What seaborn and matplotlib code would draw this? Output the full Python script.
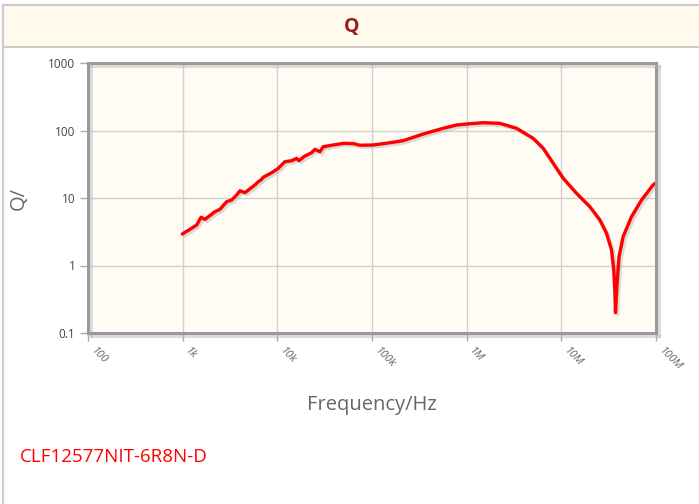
import numpy as np
import pandas as pd
import seaborn as sns
import matplotlib
matplotlib.use("Agg")
import matplotlib.pyplot as plt
import matplotlib.patheffects as pe
from matplotlib.patches import Rectangle

# values
freq_hz = [992, 1194, 1406, 1561, 1719, 2193, 2477, 2916, 3291, 3717, 4028, 4546,
           5798, 6285, 6711, 7100, 8710, 10230, 12020, 14160, 16000, 16900, 19550,
           23020, 24950, 28180, 30540, 38940, 50400, 63300, 74500, 103000, 140000,
           213000, 347000, 565000, 782000, 1.0e6, 1.49e6, 2.24e6, 3.37e6, 5.04e6,
           6.43e6, 8.19e6, 1.045e7, 1.449e7, 2.0e7, 2.55e7, 3.0e7, 3.39e7, 3.58e7,
           3.67e7, 3.73e7, 3.88e7, 4.07e7, 4.49e7, 5.51e7, 7.03e7, 9.31e7, 1.0e8]
q_values = [2.93, 3.44, 3.98, 5.18, 4.83, 6.27, 6.80, 8.82, 9.34, 11.1, 12.8, 12.0,
            15.6, 17.4, 18.5, 20.3, 23.7, 27.5, 34.5, 35.7, 38.7, 35.7, 41.9,
            46.9, 52.6, 48.5, 57.5, 61.0, 64.6, 64.0, 60.5, 61.0, 64.6,
            70.6, 88.7, 107.8, 120.6, 124.8, 130.5, 127.8, 107.8, 76.5,
            54.5, 32.7, 19.6, 11.7, 7.43, 4.72, 3.0, 1.70, 0.857,
            0.434, 0.2, 0.545, 1.35, 2.67, 5.28, 9.34, 15.6, 16.8]

x_ticks = [1e2, 1e3, 1e4, 1e5, 1e6, 1e7, 1e8]
x_tick_labels = ["100", "1k", "10k", "100k", "1M", "10M", "100M"]
y_ticks = [0.1, 1, 10, 100, 1000]
y_tick_labels = ["0.1", "1", "10", "100", "1000"]

df = pd.DataFrame({"freq": freq_hz, "q": q_values})

sns.set_theme(style="white")
plt.rcParams["font.family"] = ["Open Sans", "DejaVu Sans"]

fig = plt.figure(figsize=(6.99, 5.04), dpi=100)

# outer frame and header band
fig.patches.append(Rectangle((3 / 699, -0.01), 1.0, 1 - 5 / 504 + 0.01, transform=fig.transFigure,
                             facecolor="white", edgecolor="#cccccc", lw=1.5, zorder=0))
fig.patches.append(Rectangle((3 / 699, 1 - 47 / 504), 1.0, 42 / 504, transform=fig.transFigure,
                             facecolor="#fffaec", edgecolor="#cccccc", lw=1.5, zorder=1))
fig.text(352 / 699, 1 - 27 / 504, "Q", color="#9b1c1c", fontsize=14, fontweight="bold",
         ha="center", va="center")

ax = fig.add_axes([88 / 699, 1 - 333 / 504, 568 / 699, 270 / 504])
ax.set_zorder(5)
ax.set_facecolor("#fffcf4")

sns.lineplot(data=df, x="freq", y="q", ax=ax, color="#ff0000", linewidth=2.4,
             path_effects=[pe.SimpleLineShadow(offset=(1.5, -1.5), shadow_color="#999999", alpha=0.35),
                           pe.Normal()])

ax.set_xscale("log")
ax.set_yscale("log")
ax.set_xlim(1e2, 1e8)
ax.set_ylim(0.1, 1000)
ax.set_xticks(x_ticks)
ax.set_xticklabels(x_tick_labels, rotation=-45, ha="left", va="top", fontsize=8,
                   color="#666666", style="italic")
ax.set_yticks(y_ticks)
ax.set_yticklabels(y_tick_labels, fontsize=8.5, color="#444444")
ax.minorticks_off()
ax.grid(True, color="#d0d0d0", linewidth=1)
ax.tick_params(axis="both", which="major", length=6, width=1, color="#aaaaaa",
               direction="out", bottom=True, left=True, pad=3)
for side in ax.spines.values():
    side.set_color("#9a9a9a")
    side.set_linewidth(2.2)
    side.set_path_effects([pe.SimpleLineShadow(offset=(2, -2), shadow_color="#bbbbbb", alpha=0.5),
                           pe.Normal()])

ax.set_xlabel("Frequency/Hz", fontsize=14.5, color="#666666", labelpad=16)
ax.set_ylabel("Q/", fontsize=14.5, color="#666666", labelpad=14)

fig.text(20 / 699, 1 - 457 / 504, "CLF12577NIT-6R8N-D", color="#ff0000", fontsize=13.5,
         ha="left", va="center")

fig.savefig("out.png", dpi=100)
